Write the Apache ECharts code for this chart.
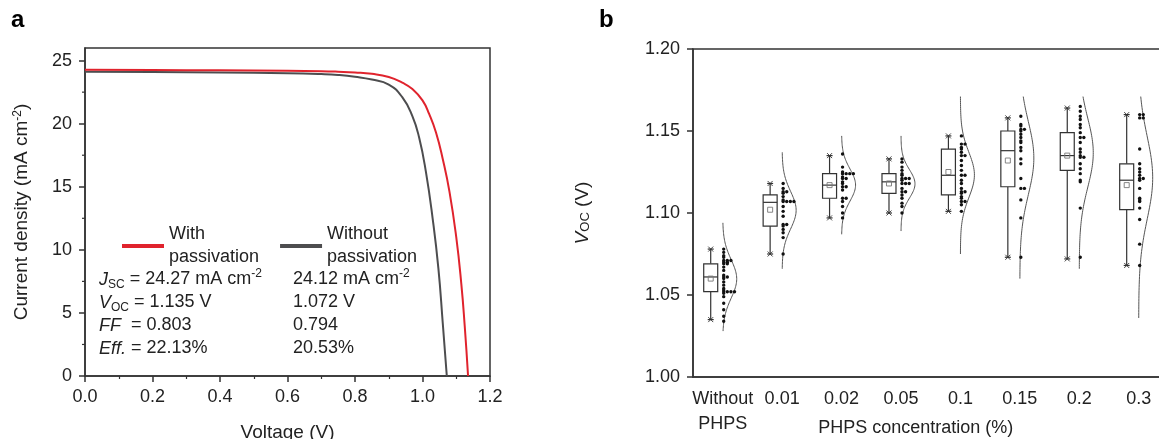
<!DOCTYPE html>
<html><head><meta charset="utf-8">
<script src="https://cdn.jsdelivr.net/npm/echarts@6/dist/echarts.min.js"></script>
<style>html,body{margin:0;padding:0;background:#fff;}#c{width:1159px;height:439px;}</style>
</head><body><div id="c"></div>
<script>
// ---------- Panel a : J-V curves ----------
const voltageWith    = [0, 0.2, 0.4, 0.6, 0.7, 0.75, 0.8, 0.85, 0.9, 0.94, 0.97, 1.0, 1.02, 1.04, 1.06, 1.08, 1.10, 1.115, 1.125, 1.135];
const currentWith    = [24.27, 24.25, 24.23, 24.2, 24.16, 24.12, 24.06, 23.95, 23.7, 23.25, 22.75, 21.85, 20.75, 19.3, 17.2, 14.6, 11.0, 7.3, 4.0, 0];
const voltageWithout = [0, 0.2, 0.4, 0.6, 0.7, 0.75, 0.8, 0.85, 0.9, 0.94, 0.97, 0.99, 1.01, 1.03, 1.047, 1.06, 1.072];
const currentWithout = [24.12, 24.1, 24.06, 24.0, 23.93, 23.86, 23.72, 23.5, 23.1, 22.1, 20.6, 18.9, 16.2, 12.5, 8.55, 4.2, 0];
const yTicksA = [0, 5, 10, 15, 20, 25];
const yMinorTicksA = [2.5, 7.5, 12.5, 17.5, 22.5];
const seriesNamesA = ['With\npassivation', 'Without\npassivation'];
const paramsWith = '{i|J}{sub|SC} = 24.27 mA cm{sup|-2}\n{i|V}{sub|OC} = 1.135 V\n{i|FF}  = 0.803\n{i|Eff.} = 22.13%';
const paramsWithout = '24.12 mA cm{sup|-2}\n1.072 V\n0.794\n20.53%';

// ---------- Panel b : Voc statistics ----------
const categories = ['Without\nPHPS', '0.01', '0.02', '0.05', '0.1', '0.15', '0.2', '0.3'];
const vocWithout = [1.078, 1.076, 1.074, 1.073, 1.071, 1.071, 1.071, 1.070, 1.070, 1.069, 1.069, 1.067, 1.065, 1.062, 1.061, 1.061, 1.060, 1.058, 1.056, 1.054, 1.053, 1.052, 1.052, 1.052, 1.052, 1.051, 1.049, 1.045, 1.041, 1.037, 1.034];
const voc001 = [1.118, 1.115, 1.113, 1.113, 1.112, 1.110, 1.108, 1.107, 1.107, 1.107, 1.107, 1.104, 1.101, 1.098, 1.093, 1.093, 1.092, 1.090, 1.088, 1.085, 1.075];
const voc002 = [1.136, 1.128, 1.125, 1.124, 1.124, 1.124, 1.124, 1.122, 1.121, 1.121, 1.119, 1.118, 1.116, 1.116, 1.114, 1.109, 1.109, 1.107, 1.104, 1.100, 1.097];
const voc005 = [1.133, 1.131, 1.128, 1.126, 1.124, 1.123, 1.121, 1.121, 1.121, 1.120, 1.118, 1.118, 1.118, 1.115, 1.113, 1.113, 1.111, 1.109, 1.106, 1.104, 1.100];
const voc01  = [1.147, 1.142, 1.142, 1.140, 1.139, 1.137, 1.135, 1.135, 1.132, 1.129, 1.126, 1.123, 1.123, 1.120, 1.118, 1.115, 1.113, 1.113, 1.112, 1.110, 1.109, 1.107, 1.107, 1.105, 1.101];
const voc015 = [1.159, 1.154, 1.153, 1.151, 1.151, 1.150, 1.148, 1.146, 1.144, 1.143, 1.140, 1.138, 1.133, 1.130, 1.121, 1.115, 1.115, 1.108, 1.097, 1.073];
const voc02  = [1.165, 1.162, 1.159, 1.157, 1.154, 1.152, 1.149, 1.146, 1.146, 1.143, 1.139, 1.137, 1.135, 1.134, 1.134, 1.130, 1.127, 1.124, 1.120, 1.119, 1.103, 1.073];
const voc03  = [1.160, 1.160, 1.158, 1.158, 1.139, 1.130, 1.127, 1.125, 1.123, 1.121, 1.121, 1.120, 1.115, 1.109, 1.108, 1.107, 1.103, 1.096, 1.081, 1.068];
const boxLow    = [1.035, 1.075, 1.097, 1.100, 1.101, 1.073, 1.072, 1.068];
const boxQ1     = [1.052, 1.092, 1.109, 1.112, 1.111, 1.116, 1.126, 1.102];
const boxMedian = [1.061, 1.1065, 1.117, 1.119, 1.123, 1.138, 1.135, 1.120];
const boxQ3     = [1.069, 1.111, 1.124, 1.124, 1.139, 1.150, 1.149, 1.130];
const boxHigh   = [1.078, 1.118, 1.135, 1.133, 1.147, 1.158, 1.164, 1.160];
const boxMean   = [1.060, 1.102, 1.117, 1.118, 1.125, 1.132, 1.135, 1.117];
const curveLow  = [1.028, 1.066, 1.087, 1.089, 1.075, 1.060, 1.066, 1.036];
const curveHigh = [1.094, 1.137, 1.147, 1.147, 1.171, 1.171, 1.171, 1.171];

const dotsByCategory = [vocWithout, voc001, voc002, voc005, voc01, voc015, voc02, voc03];

// ---------- styles ----------
const FONT = '"Liberation Sans", Arial, Helvetica, sans-serif';
const TXT = '#222';
const AX = '#333';
const RED = '#e0232d';
const GRAY = '#4d4d4f';
const BOX_OFFSET = -12, BOX_HALF = 7, CURVE_WIDTH = 14, DOT_STEP = 3.6;

const chart = echarts.init(document.getElementById('c'), null, {renderer: 'canvas'});

// dot data with stacking index for coincident values
const dotData = [];
dotsByCategory.forEach((arr, ci) => {
  const seen = {};
  arr.forEach(v => {
    const key = v.toFixed(3);
    const k = seen[key] || 0;
    seen[key] = k + 1;
    dotData.push([ci, v, k]);
  });
});
// normal fit of each category (mean, sd) for the distribution curve
const curveData = dotsByCategory.map((arr, ci) => {
  const m = arr.reduce((a, b) => a + b, 0) / arr.length;
  const sd = Math.sqrt(arr.reduce((a, b) => a + (b - m) * (b - m), 0) / (arr.length - 1));
  return [ci, curveLow[ci], curveHigh[ci], m, sd];
});
const boxData = categories.map((c, i) => [i, boxLow[i], boxQ1[i], boxMedian[i], boxQ3[i], boxHigh[i], boxMean[i]]);
const minorTickData = yMinorTicksA.map(v => [0, v]);

const richBase = {
  i: {fontStyle: 'italic', fontSize: 19, fontFamily: FONT, color: TXT},
  sub: {fontSize: 13, lineHeight: 13, verticalAlign: 'bottom', fontFamily: FONT, color: TXT},
  sup: {fontSize: 12, lineHeight: 12, verticalAlign: 'top', fontFamily: FONT, color: TXT}
};

const axisLineStyle = {color: AX, width: 1.5};

const option = {
  animation: false,
  backgroundColor: '#fff',
  textStyle: {fontFamily: FONT},
  grid: [
    {left: 85, top: 48, width: 405, height: 328, show: true, borderColor: AX, borderWidth: 1.5, backgroundColor: 'transparent', outerBoundsMode: 'none', containLabel: false},
    {left: 693, top: 49, width: 475.4, height: 328, show: true, borderColor: AX, borderWidth: 1.5, backgroundColor: 'transparent', outerBoundsMode: 'none', containLabel: false}
  ],
  legend: {
    left: 117, top: 218, itemWidth: 42, itemHeight: 4, itemGap: 21, icon: 'rect', selectedMode: false,
    textStyle: {fontSize: 18, lineHeight: 23, color: TXT, fontFamily: FONT},
    data: seriesNamesA
  },
  xAxis: [
    {gridIndex: 0, type: 'value', min: 0, max: 1.2, interval: 0.2,
      axisLine: {lineStyle: axisLineStyle}, axisTick: {length: 6, lineStyle: axisLineStyle},
      minorTick: {show: true, splitNumber: 2, length: 3, lineStyle: {color: AX, width: 1.2}},
      splitLine: {show: false},
      axisLabel: {fontSize: 18, color: TXT, margin: 12, formatter: v => v.toFixed(1)},
      name: 'Voltage (V)', nameLocation: 'middle', nameGap: 47, nameMoveOverlap: false,
      nameTextStyle: {fontSize: 19, color: TXT}},
    {gridIndex: 1, type: 'category', data: categories, boundaryGap: true,
      axisLine: {lineStyle: axisLineStyle}, axisTick: {alignWithLabel: true, length: 6, lineStyle: axisLineStyle},
      splitLine: {show: false},
      axisLabel: {fontSize: 18, color: TXT, margin: 10, lineHeight: 25, interval: 0},
      name: 'PHPS concentration (%)', nameLocation: 'middle', nameGap: 42, nameMoveOverlap: false,
      nameTextStyle: {fontSize: 18, color: TXT, padding: [0, 30, 0, 0]}}
  ],
  yAxis: [
    {gridIndex: 0, type: 'value', min: 0, max: 26, interval: 5, position: 'left',
      axisLine: {show: true, lineStyle: axisLineStyle},
      axisTick: {show: true, length: 6, lineStyle: axisLineStyle, customValues: yTicksA},
      axisLabel: {fontSize: 18, color: TXT, margin: 13, customValues: yTicksA},
      splitLine: {show: false},
      name: 'Current density (mA cm{sup|-2})', nameLocation: 'middle', nameGap: 54, nameMoveOverlap: false,
      nameTextStyle: {fontSize: 19, color: TXT, rich: richBase}},
    {gridIndex: 1, type: 'value', min: 1.0, max: 1.2, interval: 0.05, position: 'left',
      axisLine: {show: true, lineStyle: axisLineStyle},
      axisTick: {show: true, length: 6, lineStyle: axisLineStyle},
      axisLabel: {fontSize: 18, color: TXT, margin: 13, formatter: v => v.toFixed(2)},
      splitLine: {show: false},
      name: '{i|V}{sub|OC} (V)', nameLocation: 'middle', nameGap: 101, nameMoveOverlap: false,
      nameTextStyle: {fontSize: 19, color: TXT, rich: richBase}}
  ],
  graphic: [
    {type: 'text', left: 11, top: 8, style: {text: 'a', font: 'bold 24px ' + FONT, fill: '#000'}},
    {type: 'text', left: 599, top: 8, style: {text: 'b', font: 'bold 24px ' + FONT, fill: '#000'}},
    {type: 'text', left: 99, top: 268, style: {text: paramsWith, fontSize: 18, fontFamily: FONT, lineHeight: 23, fill: TXT,
      rich: {i: {fontStyle: 'italic', fontSize: 18, fontFamily: FONT, fill: TXT, lineHeight: 23},
             sub: {fontSize: 12, lineHeight: 12, verticalAlign: 'bottom', fontFamily: FONT, fill: TXT},
             sup: {fontSize: 12, lineHeight: 12, verticalAlign: 'top', fontFamily: FONT, fill: TXT}}}},
    {type: 'text', left: 293, top: 268, style: {text: paramsWithout, fontSize: 18, fontFamily: FONT, lineHeight: 23, fill: TXT,
      rich: {sup: {fontSize: 12, lineHeight: 12, verticalAlign: 'top', fontFamily: FONT, fill: TXT}}}}
  ],
  series: [
    {name: seriesNamesA[1], type: 'line', xAxisIndex: 0, yAxisIndex: 0, showSymbol: false, smooth: 0.5,
      color: GRAY, lineStyle: {color: GRAY, width: 2}, data: voltageWithout.map((v, i) => [v, currentWithout[i]]), z: 3},
    {name: seriesNamesA[0], type: 'line', xAxisIndex: 0, yAxisIndex: 0, showSymbol: false, smooth: 0.5,
      color: RED, lineStyle: {color: RED, width: 2}, data: voltageWith.map((v, i) => [v, currentWith[i]]), z: 4},
    // minor ticks of the panel-a y axis (outside, left of the axis line)
    {type: 'custom', xAxisIndex: 0, yAxisIndex: 0, data: minorTickData, silent: true, clip: false, z: 5,
      renderItem: function (params, api) {
        const p = api.coord([api.value(0), api.value(1)]);
        return {type: 'line', shape: {x1: p[0] - 3, y1: p[1], x2: p[0], y2: p[1]}, style: {stroke: AX, lineWidth: 1.2}};
      }},
    // distribution curves (normal fit of each group)
    {type: 'custom', xAxisIndex: 1, yAxisIndex: 1, encode: {x: 0, y: [1, 2]}, data: curveData, silent: true,
      renderItem: function (params, api) {
        const ci = api.value(0), lo = api.value(1), hi = api.value(2), m = api.value(3), sd = api.value(4);
        const pts = [];
        const n = 80;
        for (let k = 0; k <= n; k++) {
          const v = lo + (hi - lo) * k / n;
          const p = api.coord([ci, v]);
          const w = CURVE_WIDTH * Math.exp(-0.5 * Math.pow((v - m) / sd, 2));
          pts.push([p[0] + w, p[1]]);
        }
        return {type: 'polyline', shape: {points: pts, smooth: 0}, style: {stroke: '#555', lineWidth: 1, fill: null}};
      }},
    // box plots
    {type: 'custom', xAxisIndex: 1, yAxisIndex: 1, encode: {x: 0, y: [1, 5]}, data: boxData, silent: true,
      renderItem: function (params, api) {
        const ci = api.value(0);
        const yy = [1, 2, 3, 4, 5, 6].map(d => api.coord([ci, api.value(d)])[1]);
        const cx = api.coord([ci, api.value(3)])[0] + BOX_OFFSET;
        const st = {stroke: '#333', lineWidth: 1.2, fill: null};
        const cap = (y) => [
          {type: 'line', shape: {x1: cx - 3, y1: y, x2: cx + 3, y2: y}, style: st},
          {type: 'line', shape: {x1: cx - 2.5, y1: y - 2.5, x2: cx + 2.5, y2: y + 2.5}, style: {stroke: '#333', lineWidth: 0.9}},
          {type: 'line', shape: {x1: cx - 2.5, y1: y + 2.5, x2: cx + 2.5, y2: y - 2.5}, style: {stroke: '#333', lineWidth: 0.9}}
        ];
        return {type: 'group', children: [
          {type: 'line', shape: {x1: cx, y1: yy[4], x2: cx, y2: yy[3]}, style: st},
          {type: 'line', shape: {x1: cx, y1: yy[1], x2: cx, y2: yy[0]}, style: st},
          {type: 'rect', shape: {x: cx - BOX_HALF, y: yy[3], width: 2 * BOX_HALF, height: yy[1] - yy[3]}, style: {stroke: '#333', lineWidth: 1.2, fill: '#fff'}},
          {type: 'line', shape: {x1: cx - BOX_HALF, y1: yy[2], x2: cx + BOX_HALF, y2: yy[2]}, style: st},
          {type: 'rect', shape: {x: cx - 2.5, y: yy[5] - 2.5, width: 5, height: 5}, style: {stroke: '#777', lineWidth: 0.9, fill: null}}
        ].concat(cap(yy[0]), cap(yy[4]))};
      }},
    // individual points
    {type: 'custom', xAxisIndex: 1, yAxisIndex: 1, encode: {x: 0, y: 1}, data: dotData, silent: true,
      renderItem: function (params, api) {
        const p = api.coord([api.value(0), api.value(1)]);
        return {type: 'circle', shape: {cx: p[0] + 1 + api.value(2) * DOT_STEP, cy: p[1], r: 1.7}, style: {fill: '#111'}};
      }}
  ]
};
chart.setOption(option);
</script></body></html>
